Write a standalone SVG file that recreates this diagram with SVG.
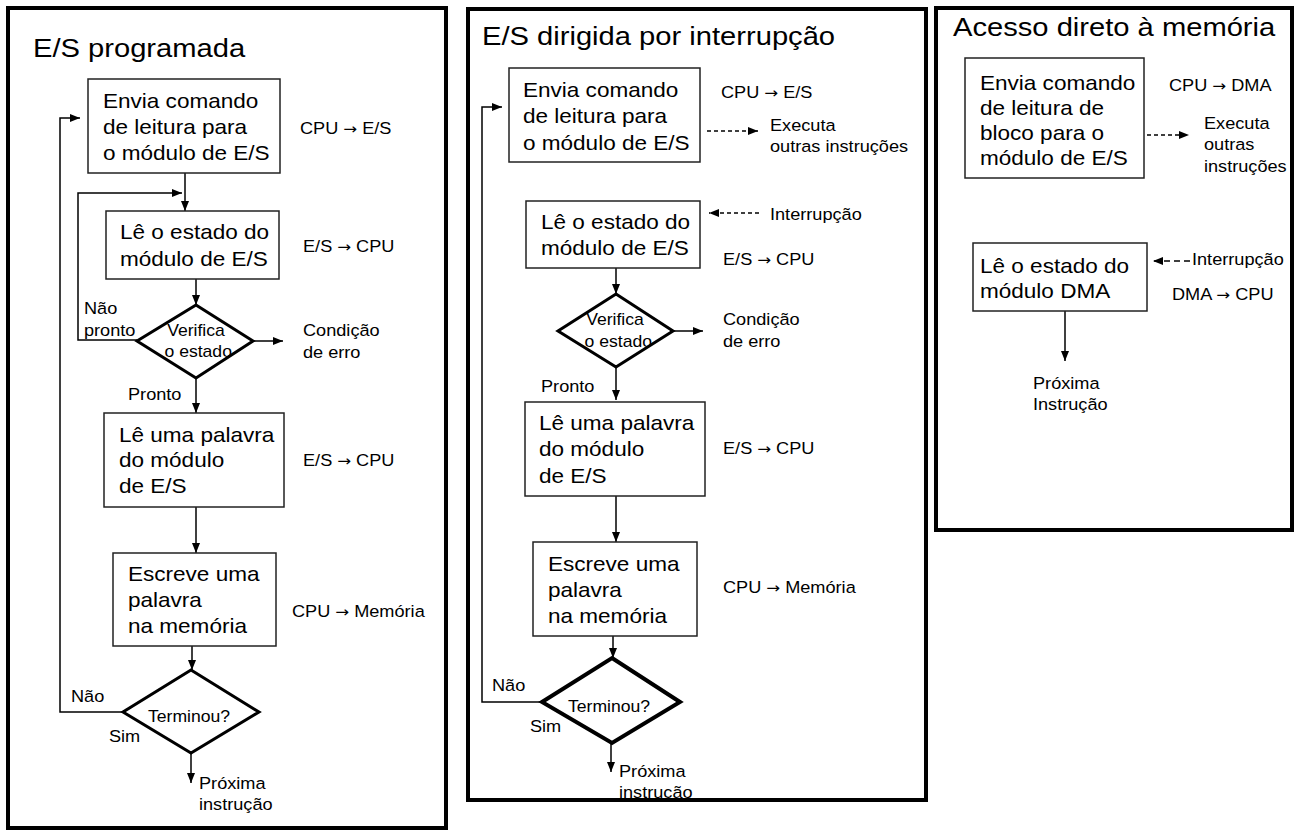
<svg xmlns="http://www.w3.org/2000/svg" width="1296" height="831" viewBox="0 0 1296 831">
<style>
text{font-family:"Liberation Sans",Arial,sans-serif;fill:#000}
.tt{font-size:26.5px}
.bt{font-size:20.5px}
.lb{font-size:16.5px}
.ar{font-family:"DejaVu Sans",sans-serif;font-size:15px}
.dt{font-size:16px;text-anchor:middle}
.frame{fill:none;stroke:#000;stroke-width:4}
.box{fill:#fff;stroke:#222;stroke-width:1.5}
.dia{fill:#fff;stroke:#000;stroke-width:3;stroke-linejoin:miter}
.dia4{stroke-width:4}
.ln{fill:none;stroke:#000;stroke-width:1.5;marker-end:url(#ah)}
.dash{stroke-dasharray:4 3}
.dash2{stroke-dasharray:6 4}
</style>
<defs>
<marker id="ah" markerUnits="userSpaceOnUse" markerWidth="10" markerHeight="10" viewBox="0 0 10 10" refX="10" refY="5" orient="auto">
<path d="M0,1 L10,5 L0,9 z" fill="#000"/>
</marker>
</defs>
<rect width="1296" height="831" fill="#fff"/>

<g id="connectors">
<path class="ln" d="M185,173 V211"/>
<path class="ln" d="M137,340 H78 V193 H182"/>
<path class="ln" d="M196,279 V305"/>
<path class="ln" d="M253,341 H283"/>
<path class="ln" d="M196,378 V413"/>
<path class="ln" d="M196,507 V553"/>
<path class="ln" d="M192,646 V670"/>
<path class="ln" d="M123,712 H60 V118 H80"/>
<path class="ln" d="M191,753 V783"/>

<path class="ln dash" d="M707,131 H758"/>
<path class="ln dash" d="M759,213 H709"/>
<path class="ln" d="M616,268 V294"/>
<path class="ln" d="M673,331 H703"/>
<path class="ln" d="M616,367 V400"/>
<path class="ln" d="M616,496 V542"/>
<path class="ln" d="M613,636 V658"/>
<path class="ln" d="M542,702 H482 V107 H502"/>
<path class="ln" d="M611,743 V772"/>

<path class="ln dash" d="M1147,135 H1189"/>
<path class="ln dash2" d="M1190,261 H1153"/>
<path class="ln" d="M1065,311 V361"/>
</g>

<g id="p1-title"><text class="tt" transform="translate(33,57) scale(1.1,1)">E/S programada</text></g>
<g id="p1-envia">
<rect class="box" x="88" y="79" width="192" height="94"/>
<text class="bt" transform="translate(103,108) scale(1.1,1)"><tspan x="0" y="0">Envia comando</tspan><tspan x="0" y="26">de leitura para</tspan><tspan x="0" y="52">o módulo de E/S</tspan></text>
</g>
<g id="p1-l1"><text class="lb" transform="translate(300,134) scale(1.1,1)">CPU <tspan class="ar">→</tspan> E/S</text></g>
<g id="p1-le">
<rect class="box" x="106" y="211" width="173" height="68"/>
<text class="bt" transform="translate(120,239) scale(1.1,1)"><tspan x="0" y="0">Lê o estado do</tspan><tspan x="0" y="27">módulo de E/S</tspan></text>
</g>
<g id="p1-l2"><text class="lb" transform="translate(303,252) scale(1.1,1)">E/S <tspan class="ar">→</tspan> CPU</text></g>
<g id="p1-verifica">
<polygon class="dia" points="196,305 253,341 196,378 137,341"/>
<text class="dt" transform="translate(196,336) scale(1.1,1)"><tspan x="0" y="0">Verifica</tspan><tspan x="2" y="21">o estado</tspan></text>
</g>
<g id="p1-erro"><text class="lb" transform="translate(303,336) scale(1.1,1)"><tspan x="0" y="0">Condição</tspan><tspan x="0" y="22">de erro</tspan></text></g>
<g id="p1-nao"><text class="lb" transform="translate(84,314) scale(1.1,1)"><tspan x="0" y="0">Não</tspan><tspan x="0" y="22">pronto</tspan></text></g>
<g id="p1-pronto"><text class="lb" transform="translate(128,400) scale(1.1,1)">Pronto</text></g>
<g id="p1-lepalavra">
<rect class="box" x="104" y="413" width="180" height="94"/>
<text class="bt" transform="translate(119,442) scale(1.1,1)"><tspan x="0" y="0">Lê uma palavra</tspan><tspan x="0" y="25.5">do módulo</tspan><tspan x="0" y="51">de E/S</tspan></text>
</g>
<g id="p1-l3"><text class="lb" transform="translate(303,466) scale(1.1,1)">E/S <tspan class="ar">→</tspan> CPU</text></g>
<g id="p1-escreve">
<rect class="box" x="113" y="553" width="163" height="93"/>
<text class="bt" transform="translate(128,581) scale(1.1,1)"><tspan x="0" y="0">Escreve uma</tspan><tspan x="0" y="26">palavra</tspan><tspan x="0" y="52">na memória</tspan></text>
</g>
<g id="p1-l4"><text class="lb" transform="translate(292,617) scale(1.1,1)">CPU <tspan class="ar">→</tspan> Memória</text></g>
<g id="p1-terminou">
<polygon class="dia" points="191,670 259,712 191,753 123,712"/>
<text class="dt" transform="translate(189,722) scale(1.1,1)">Terminou?</text>
</g>
<g id="p1-nao2"><text class="lb" transform="translate(71,702) scale(1.1,1)">Não</text></g>
<g id="p1-sim"><text class="lb" transform="translate(109,742) scale(1.1,1)">Sim</text></g>
<g id="p1-prox"><text class="lb" transform="translate(199,789) scale(1.1,1)"><tspan x="0" y="0">Próxima</tspan><tspan x="0" y="21">instrução</tspan></text></g>

<g id="p2-title"><text class="tt" transform="translate(482,45) scale(1.1,1)">E/S dirigida por interrupção</text></g>
<g id="p2-envia">
<rect class="box" x="509" y="68" width="191" height="94"/>
<text class="bt" transform="translate(523,97) scale(1.1,1)"><tspan x="0" y="0">Envia comando</tspan><tspan x="0" y="26.5">de leitura para</tspan><tspan x="0" y="53">o módulo de E/S</tspan></text>
</g>
<g id="p2-l1"><text class="lb" transform="translate(721,98) scale(1.1,1)">CPU <tspan class="ar">→</tspan> E/S</text></g>
<g id="p2-exec"><text class="lb" transform="translate(770,131) scale(1.1,1)"><tspan x="0" y="0">Executa</tspan><tspan x="0" y="21">outras instruções</tspan></text></g>
<g id="p2-le">
<rect class="box" x="526" y="201" width="174" height="67"/>
<text class="bt" transform="translate(541,229) scale(1.1,1)"><tspan x="0" y="0">Lê o estado do</tspan><tspan x="0" y="26">módulo de E/S</tspan></text>
</g>
<g id="p2-int"><text class="lb" transform="translate(770,220) scale(1.1,1)">Interrupção</text></g>
<g id="p2-l2"><text class="lb" transform="translate(723,265) scale(1.1,1)">E/S <tspan class="ar">→</tspan> CPU</text></g>
<g id="p2-verifica">
<polygon class="dia" points="616,294 673,331 616,367 558,331"/>
<text class="dt" transform="translate(615,325) scale(1.1,1)"><tspan x="0" y="0">Verifica</tspan><tspan x="3" y="22">o estado</tspan></text>
</g>
<g id="p2-erro"><text class="lb" transform="translate(723,325) scale(1.1,1)"><tspan x="0" y="0">Condição</tspan><tspan x="0" y="22">de erro</tspan></text></g>
<g id="p2-pronto"><text class="lb" transform="translate(541,392) scale(1.1,1)">Pronto</text></g>
<g id="p2-lepalavra">
<rect class="box" x="525" y="402" width="180" height="94"/>
<text class="bt" transform="translate(539,430) scale(1.1,1)"><tspan x="0" y="0">Lê uma palavra</tspan><tspan x="0" y="26">do módulo</tspan><tspan x="0" y="53">de E/S</tspan></text>
</g>
<g id="p2-l3"><text class="lb" transform="translate(723,454) scale(1.1,1)">E/S <tspan class="ar">→</tspan> CPU</text></g>
<g id="p2-escreve">
<rect class="box" x="533" y="542" width="164" height="94"/>
<text class="bt" transform="translate(548,571) scale(1.1,1)"><tspan x="0" y="0">Escreve uma</tspan><tspan x="0" y="26">palavra</tspan><tspan x="0" y="52">na memória</tspan></text>
</g>
<g id="p2-l4"><text class="lb" transform="translate(723,593) scale(1.1,1)">CPU <tspan class="ar">→</tspan> Memória</text></g>
<g id="p2-terminou">
<polygon class="dia dia4" points="612,658 680,702 612,743 542,702"/>
<text class="dt" transform="translate(609,712) scale(1.1,1)">Terminou?</text>
</g>
<g id="p2-nao"><text class="lb" transform="translate(492,691) scale(1.1,1)">Não</text></g>
<g id="p2-sim"><text class="lb" transform="translate(530,732) scale(1.1,1)">Sim</text></g>
<g id="p2-prox"><text class="lb" transform="translate(619,777) scale(1.1,1)"><tspan x="0" y="0">Próxima</tspan><tspan x="0" y="21">instrução</tspan></text></g>

<g id="p3-title"><text class="tt" transform="translate(953,36) scale(1.1,1)">Acesso direto à memória</text></g>
<g id="p3-envia">
<rect class="box" x="965" y="58" width="179" height="120"/>
<text class="bt" transform="translate(980,90) scale(1.1,1)"><tspan x="0" y="0">Envia comando</tspan><tspan x="0" y="25">de leitura de</tspan><tspan x="0" y="50">bloco para o</tspan><tspan x="0" y="75">módulo de E/S</tspan></text>
</g>
<g id="p3-l1"><text class="lb" transform="translate(1169,91) scale(1.1,1)">CPU <tspan class="ar">→</tspan> DMA</text></g>
<g id="p3-exec"><text class="lb" transform="translate(1204,129) scale(1.1,1)"><tspan x="0" y="0">Executa</tspan><tspan x="0" y="21.5">outras</tspan><tspan x="0" y="43">instruções</tspan></text></g>
<g id="p3-le">
<rect class="box" x="973" y="243" width="174" height="68"/>
<text class="bt" transform="translate(980,273) scale(1.1,1)"><tspan x="0" y="0">Lê o estado do</tspan><tspan x="0" y="25">módulo DMA</tspan></text>
</g>
<g id="p3-int"><text class="lb" transform="translate(1192,265) scale(1.1,1)">Interrupção</text></g>
<g id="p3-l2"><text class="lb" transform="translate(1172,300) scale(1.1,1)">DMA <tspan class="ar">→</tspan> CPU</text></g>
<g id="p3-prox"><text class="lb" transform="translate(1033,389) scale(1.1,1)"><tspan x="0" y="0">Próxima</tspan><tspan x="0" y="21">Instrução</tspan></text></g>

<g id="frames">
<rect class="frame" x="8" y="8" width="438" height="820"/>
<rect class="frame" x="468" y="9" width="458" height="791"/>
<rect class="frame" x="936" y="8" width="356" height="522"/>
</g>
</svg>
